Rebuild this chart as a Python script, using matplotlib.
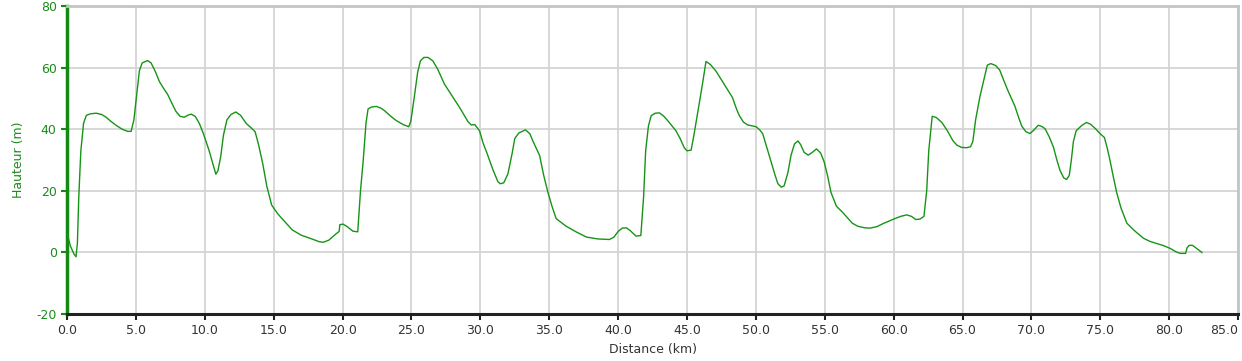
#
# Elevation profile (Hauteur vs Distance)
#
import matplotlib
matplotlib.use('Agg')
import matplotlib.pyplot as plt

plt.rcParams['axes.unicode_minus'] = False

# Profile points
distance = [0.0, 0.25, 0.5, 0.65, 0.75, 0.85, 1.0, 1.2, 1.4, 1.7, 2.1, 2.5, 2.8, 3.2, 3.55,
            4.0, 4.4, 4.65, 4.85, 5.05, 5.25, 5.45, 5.85, 6.1, 6.4, 6.7, 7.0, 7.3, 7.6, 7.9,
            8.2, 8.5, 8.8, 9.0, 9.3, 9.6, 9.9, 10.3, 10.6, 10.8, 10.95, 11.15, 11.35, 11.6,
            11.9, 12.25, 12.6, 13.0, 13.4, 13.65, 13.9, 14.2, 14.5, 14.85, 15.3, 15.8, 16.35,
            17.0, 17.7, 18.3, 18.6, 19.0, 19.54, 19.75, 19.8, 20.02, 20.3, 20.75, 21.1, 21.3,
            21.5, 21.7, 21.85, 22.1, 22.45, 22.8, 23.05, 23.5, 23.9, 24.4, 24.8, 24.95, 25.2,
            25.45, 25.65, 25.9, 26.2, 26.55, 26.9, 27.4, 27.75, 28.1, 28.5, 28.85, 29.1, 29.33,
            29.6, 29.94, 30.2, 30.5, 30.9, 31.27, 31.45, 31.7, 32.0, 32.3, 32.5, 32.8, 33.28,
            33.6, 33.8, 34.3, 34.6, 34.9, 35.2, 35.5, 36.2, 36.9, 37.7, 38.5, 39.37, 39.7,
            40.0, 40.3, 40.6, 40.9, 41.3, 41.65, 41.85, 42.0, 42.2, 42.4, 42.7, 43.0, 43.3,
            43.6, 44.2, 44.5, 44.8, 45.0, 45.3, 45.5, 45.8, 46.1, 46.38, 46.7, 47.1, 47.7,
            48.3, 48.6, 48.8, 49.1, 49.4, 49.8, 50.02, 50.3, 50.5, 50.8, 51.0, 51.4, 51.6,
            51.85, 52.05, 52.33, 52.55, 52.8, 53.06, 53.25, 53.5, 53.8, 54.1, 54.4, 54.7,
            54.95, 55.2, 55.45, 55.85, 56.3, 56.7, 57.0, 57.4, 57.9, 58.3, 58.8, 59.25, 60.1,
            60.5, 60.95, 61.3, 61.6, 61.9, 62.2, 62.4, 62.55, 62.8, 63.1, 63.5, 63.9, 64.3,
            64.6, 64.93, 65.3, 65.58, 65.75, 65.95, 66.26, 66.55, 66.8, 67.05, 67.4, 67.7,
            68.0, 68.3, 68.8, 69.1, 69.3, 69.6, 69.9, 70.2, 70.5, 70.8, 71.0, 71.3, 71.6,
            71.85, 72.08, 72.35, 72.56, 72.75, 72.9, 73.05, 73.25, 73.65, 74.0, 74.3, 74.6,
            75.0, 75.3, 75.5, 75.7, 75.95, 76.2, 76.5, 76.93, 77.5, 78.14, 78.6, 79.1, 79.6,
            80.08, 80.5, 80.8, 81.2, 81.3, 81.45, 81.7, 82.0, 82.38]
hauteur = [6.2, 2.0, -0.5, -1.4, 3.0, 18.0, 33.0, 42.0, 44.5, 45.0, 45.2, 44.8, 44.0, 42.5, 41.3,
           40.0, 39.3, 39.3, 43.0, 51.0, 59.0, 61.5, 62.3, 61.5, 58.8, 55.5, 53.3, 51.3, 48.5, 45.8,
           44.2, 43.9, 44.6, 44.9, 44.2, 41.9, 38.5, 33.2, 28.5, 25.4, 26.5, 31.0, 38.0, 43.0,
           44.8, 45.6, 44.5, 41.9, 40.3, 39.2, 35.0, 28.9, 21.5, 15.4, 12.5, 10.0, 7.3,
           5.6, 4.5, 3.5, 3.3, 4.0, 6.1, 6.8, 9.0, 9.2, 8.5, 6.9, 6.7, 20.0,
           30.0, 42.0, 46.6, 47.2, 47.4, 46.8, 46.0, 44.2, 42.8, 41.5, 40.8, 42.5, 50.3,
           58.5, 62.2, 63.3, 63.3, 62.2, 59.5, 54.6, 52.2, 49.8, 47.0, 44.4, 42.5, 41.4,
           41.5, 39.5, 35.5, 32.0, 27.0, 23.0, 22.3, 22.6, 25.5, 32.0, 37.0, 38.8, 39.8,
           38.5, 36.3, 31.5, 25.0, 19.6, 15.0, 11.0, 8.6, 6.8, 5.0, 4.4, 4.2, 5.0,
           6.8, 7.9, 8.0, 7.0, 5.3, 5.5, 18.0, 33.0, 41.0, 44.4, 45.2, 45.3, 44.3,
           42.8, 39.5, 37.0, 34.0, 33.0, 33.2, 38.0, 46.0, 54.0, 62.0, 61.0, 58.9, 54.6,
           50.3, 46.5, 44.4, 42.3, 41.4, 41.0, 40.8, 39.7, 38.5, 34.0, 30.9, 25.0, 22.3,
           21.2, 21.6, 26.0, 31.5, 35.2, 36.2, 35.0, 32.5, 31.6, 32.5, 33.6, 32.3,
           29.5, 25.0, 19.5, 15.0, 13.0, 11.0, 9.5, 8.5, 8.0, 7.9, 8.4, 9.4, 11.0,
           11.7, 12.2, 11.7, 10.7, 10.8, 11.7, 20.0, 33.0, 44.2, 43.8, 42.2, 39.5, 36.3,
           34.8, 34.1, 34.0, 34.3, 36.0, 43.0, 50.5, 56.0, 60.8, 61.3, 60.7, 59.2,
           55.8, 52.5, 47.5, 43.5, 41.0, 39.2, 38.6, 39.8, 41.3, 40.8, 40.1, 37.5, 34.2,
           30.0, 26.6, 24.2, 23.7, 25.0, 30.0, 36.0, 39.5, 41.2, 42.2, 41.6, 40.4,
           38.5, 37.3, 34.0, 30.0, 24.5, 19.3, 14.5, 9.5, 7.0, 4.6, 3.6, 2.9, 2.2,
           1.3, 0.2, -0.3, -0.3, 1.5, 2.3, 2.3, 1.3, 0.0]

x_ticks = list(range(0, 90, 5))
y_ticks = list(range(-20, 100, 20))

green = '#1a8c1a'
fig = plt.figure(figsize=(12.42, 3.61), dpi=100)
ax = fig.add_axes([0.054, 0.130, 0.9428, 0.8534])

ax.plot(distance, hauteur, color='#169416', lw=1.0, zorder=3)

ax.set_xlim(0, 85)
ax.set_ylim(-20, 80)
ax.set_xticks(x_ticks)
ax.set_xticklabels(['%.1f' % t for t in x_ticks])
ax.set_yticks(y_ticks)
ax.get_xticklabels()[-1].set_horizontalalignment('right')
ax.grid(True, color='#d4d4d4', lw=1.3, zorder=0)

# Spines
ax.spines['left'].set_color('#138a13')
ax.spines['left'].set_linewidth(2.5)
ax.spines['bottom'].set_color('#222222')
ax.spines['bottom'].set_linewidth(2.2)
for s in ['top', 'right']:
    ax.spines[s].set_color('#c4c4c4')
    ax.spines[s].set_linewidth(2)

ax.tick_params(axis='y', colors='#138a13', labelcolor=green, labelsize=9, length=4, width=1.5)
ax.tick_params(axis='x', colors='#222222', labelcolor='#333333', labelsize=9, length=4, width=1.5)

ax.set_xlabel('Distance (km)', color='#333333', fontsize=9, labelpad=4)
ax.set_ylabel('Hauteur (m)', color=green, fontsize=9, labelpad=8)

plt.savefig('out.png', dpi=100)
plt.close()
